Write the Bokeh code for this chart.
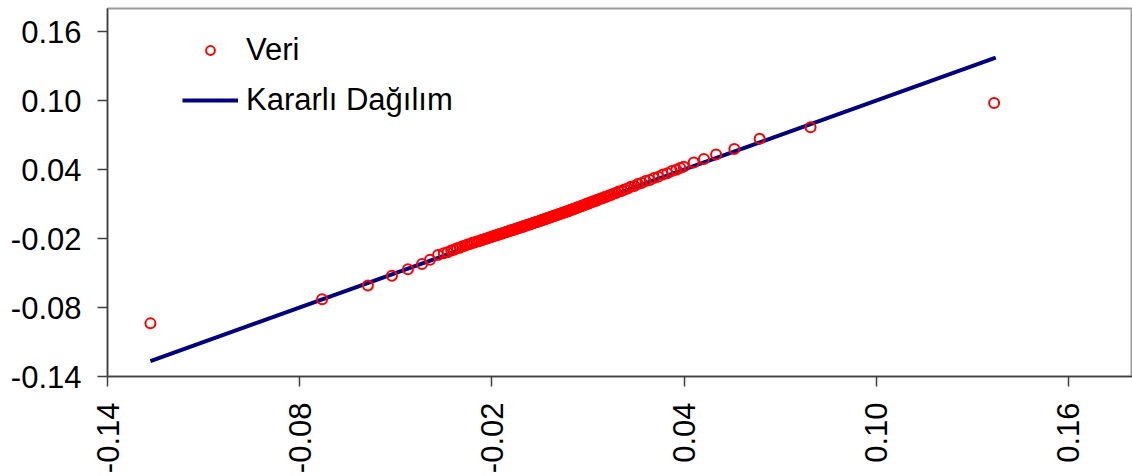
import math
from bokeh.plotting import figure
from bokeh.models import (FixedTicker, NumeralTickFormatter, Legend, LegendItem,
                          ColumnDataSource)
from bokeh.embed import file_html
from bokeh.resources import INLINE

# ---- data ----
tick_values = [-0.14, -0.08, -0.02, 0.04, 0.10, 0.16]
tick_labels = ["-0.14", "-0.08", "-0.02", "0.04", "0.10", "0.16"]

# Stable-distribution reference line (y = x between extreme theoretical quantiles)
line_x = [-0.1266, 0.1373]
line_y = [-0.1266, 0.1373]

# Q-Q points: theoretical quantile (x) vs. observed value (y)
data_x = [
    -0.1266, -0.0730, -0.0587, -0.0512, -0.0462, -0.0418, -0.0393, -0.0368,
    -0.0350, -0.0338, -0.0327, -0.0318, -0.0309, -0.0300, -0.0292, -0.0284,
    -0.0276, -0.0268, -0.0261, -0.0254, -0.0247, -0.0240, -0.0233, -0.0227,
    -0.0221, -0.0215, -0.0209, -0.0203, -0.0197, -0.0191, -0.0186, -0.0181,
    -0.0176, -0.0171, -0.0166, -0.0161, -0.0156, -0.0152, -0.0147, -0.0143,
    -0.0138, -0.0134, -0.0130, -0.0126, -0.0122, -0.0118, -0.0114, -0.0110,
    -0.0106, -0.0102, -0.0098, -0.0094, -0.0091, -0.0087, -0.0083, -0.0080,
    -0.0076, -0.0073, -0.0069, -0.0066, -0.0062, -0.0059, -0.0055, -0.0052,
    -0.0048, -0.0045, -0.0042, -0.0038, -0.0035, -0.0032, -0.0028, -0.0025,
    -0.0022, -0.0018, -0.0015, -0.0012, -0.0008, -0.0005, -0.0002, 0.0002,
    0.0005, 0.0008, 0.0012, 0.0015, 0.0018, 0.0022, 0.0025, 0.0029,
    0.0032, 0.0036, 0.0039, 0.0043, 0.0046, 0.0050, 0.0053, 0.0057,
    0.0061, 0.0064, 0.0068, 0.0072, 0.0076, 0.0080, 0.0084, 0.0088,
    0.0092, 0.0096, 0.0100, 0.0105, 0.0109, 0.0114, 0.0119, 0.0124,
    0.0129, 0.0134, 0.0140, 0.0146, 0.0152, 0.0158, 0.0165, 0.0172,
    0.0180, 0.0188, 0.0196, 0.0205, 0.0214, 0.0224, 0.0234, 0.0245,
    0.0256, 0.0268, 0.0280, 0.0293, 0.0306, 0.0320, 0.0334, 0.0348,
    0.0362, 0.0376, 0.0388, 0.0399, 0.0430, 0.0462, 0.0500, 0.0557,
    0.0636, 0.0795, 0.1368,
]
data_y = [
    -0.0938, -0.0729, -0.0609, -0.0523, -0.0468, -0.0421, -0.0385, -0.0344,
    -0.0328, -0.0319, -0.0304, -0.0298, -0.0285, -0.0280, -0.0267, -0.0264,
    -0.0252, -0.0248, -0.0238, -0.0235, -0.0226, -0.0223, -0.0213, -0.0210,
    -0.0202, -0.0199, -0.0191, -0.0189, -0.0181, -0.0178, -0.0170, -0.0169,
    -0.0161, -0.0160, -0.0152, -0.0151, -0.0143, -0.0142, -0.0135, -0.0134,
    -0.0127, -0.0126, -0.0119, -0.0119, -0.0112, -0.0111, -0.0105, -0.0104,
    -0.0097, -0.0097, -0.0090, -0.0090, -0.0083, -0.0083, -0.0076, -0.0076,
    -0.0069, -0.0069, -0.0062, -0.0062, -0.0056, -0.0056, -0.0049, -0.0049,
    -0.0043, -0.0043, -0.0036, -0.0036, -0.0030, -0.0030, -0.0023, -0.0023,
    -0.0017, -0.0017, -0.0011, -0.0011, -0.0004, -0.0004, 0.0002, 0.0002,
    0.0008, 0.0008, 0.0015, 0.0015, 0.0021, 0.0021, 0.0028, 0.0028,
    0.0035, 0.0035, 0.0042, 0.0042, 0.0049, 0.0050, 0.0056, 0.0057,
    0.0064, 0.0065, 0.0072, 0.0073, 0.0080, 0.0081, 0.0088, 0.0090,
    0.0097, 0.0098, 0.0106, 0.0107, 0.0116, 0.0117, 0.0126, 0.0127,
    0.0137, 0.0138, 0.0148, 0.0150, 0.0161, 0.0163, 0.0174, 0.0178,
    0.0190, 0.0195, 0.0208, 0.0213, 0.0227, 0.0234, 0.0249, 0.0257,
    0.0273, 0.0282, 0.0299, 0.0309, 0.0327, 0.0338, 0.0357, 0.0368,
    0.0387, 0.0398, 0.0414, 0.0425, 0.0460, 0.0492, 0.0530, 0.0578,
    0.0667, 0.0768, 0.0978,
]

series_names = ["Veri", "Kararlı Dağılım"]

# ---- figure ----
FONT = "Liberation Sans"
p = figure(width=1132, height=476, x_range=(-0.14, 0.18), y_range=(-0.14, 0.18),
           output_backend="svg", toolbar_location=None,
           min_border_left=107, min_border_right=0, min_border_top=8,
           min_border_bottom=100)
p.background_fill_color = "white"
p.border_fill_color = "white"
p.outline_line_color = "#9a9a9a"
p.outline_line_width = 2
p.xgrid.visible = False
p.ygrid.visible = False

for ax in (p.xaxis[0], p.yaxis[0]):
    ax.ticker = FixedTicker(ticks=tick_values)
    ax.formatter = NumeralTickFormatter(format="0.00")
    ax.major_label_overrides = {v: s for v, s in zip(tick_values, tick_labels)}
    ax.axis_line_color = "#404040"
    ax.axis_line_width = 1.5
    ax.major_tick_line_color = "#404040"
    ax.major_tick_line_width = 1.5
    ax.major_tick_out = 10
    ax.major_tick_in = 0
    ax.minor_tick_out = 0
    ax.minor_tick_in = 0
    ax.major_label_text_font = FONT
    ax.major_label_text_font_size = "31px"
    ax.major_label_text_color = "black"

p.yaxis.major_label_standoff = 16
p.xaxis.major_label_standoff = 16
p.xaxis.major_label_orientation = math.pi / 2

line_r = p.line(line_x, line_y, line_color="#000080", line_width=4)
pts = ColumnDataSource(dict(x=data_x, y=data_y))
scat_r = p.scatter("x", "y", source=pts, marker="circle", size=10,
                   fill_color=None, line_color="#ff0000", line_width=2)

legend = Legend(items=[LegendItem(label=series_names[0], renderers=[scat_r]),
                       LegendItem(label=series_names[1], renderers=[line_r])],
                location=(75, 256))
legend.glyph_width = 56
legend.glyph_height = 22
legend.label_height = 40
legend.spacing = 10
legend.padding = 0
legend.margin = 0
legend.label_standoff = 8
legend.label_text_font = FONT
legend.label_text_font_size = "31px"
legend.label_text_color = "black"
legend.border_line_color = None
legend.background_fill_alpha = 0
p.add_layout(legend)

open("out.html", "w").write(file_html(p, INLINE))
